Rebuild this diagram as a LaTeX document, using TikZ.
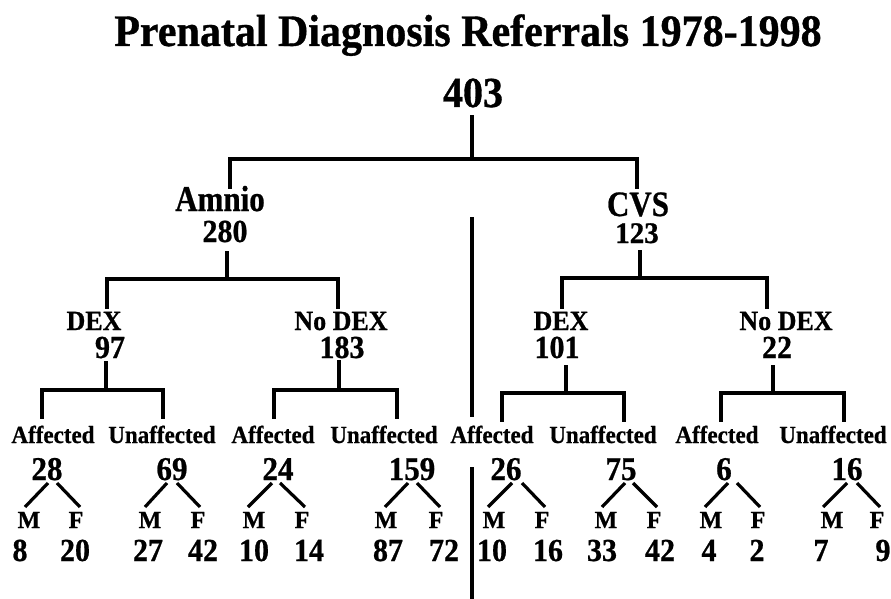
\documentclass[tikz,border=0pt]{standalone}
\usepackage{fontspec}
\setmainfont{Liberation Serif}[BoldFeatures={FakeBold=0.8}]
% slightly tall lettering
\newcommand\vst[2][1.07]{\scalebox{1}[#1]{#2}}
\begin{document}
\begin{tikzpicture}[x=1pt,y=-1pt,
  lbl/.style={anchor=base,inner sep=0pt,font=\bfseries\fontsize{#1}{#1}\selectfont},
  br/.style={line width=3.6pt,line join=miter,line cap=rect},
  tick/.style={line width=3.2pt,line cap=butt}]
\useasboundingbox (0,0) rectangle (891,599);

% title and root
\node[lbl=42] (title) at (468,46) {\vst{Prenatal Diagnosis Referrals 1978-1998}};
\node[lbl=40] (total) at (473,107) {\vst{403}};

% procedure level
\node[lbl=31] (amnio)  at (220,211) {\vst[1.17]{Amnio}};
\node[lbl=30] (amnioN) at (225,242) {\vst{280}};
\node[lbl=31] (cvs)    at (638,216) {\vst[1.15]{CVS}};
\node[lbl=29] (cvsN)   at (637,243) {\vst[1.03]{123}};

% treatment level
\node[lbl=26] (dexA)    at (94,330)  {\vst{DEX}};
\node[lbl=30] (dexAN)   at (110,358) {\vst{97}};
\node[lbl=26] (nodexA)  at (341,330) {\vst{No DEX}};
\node[lbl=30] (nodexAN) at (342,358) {\vst{183}};
\node[lbl=26] (dexC)    at (561,330) {\vst{DEX}};
\node[lbl=30] (dexCN)   at (557,358) {\vst{101}};
\node[lbl=26] (nodexC)  at (786,330) {\vst{No DEX}};
\node[lbl=30] (nodexCN) at (777,358) {\vst{22}};

% bracket joints
\coordinate (r0) at (472,117);  \coordinate (r1) at (472,159);
\coordinate (r2) at (230,187);  \coordinate (r3) at (637,187);
\coordinate (a0) at (227,253);  \coordinate (a1) at (227,279);
\coordinate (a2) at (107,307);  \coordinate (a3) at (338,307);
\coordinate (c0) at (640,252);  \coordinate (c1) at (640,278);
\coordinate (c2) at (562,307);  \coordinate (c3) at (767,307);
\coordinate (d0) at (106,363);  \coordinate (d1) at (106,390);
\coordinate (d2) at (42,417);   \coordinate (d3) at (163,417);
\coordinate (e0) at (339,362);  \coordinate (e1) at (339,390);
\coordinate (e2) at (274,417);  \coordinate (e3) at (397,417);
\coordinate (g0) at (566,367);  \coordinate (g1) at (566,393);
\coordinate (g2) at (502,420);  \coordinate (g3) at (624,420);
\coordinate (h0) at (773,367);  \coordinate (h1) at (773,393);
\coordinate (h2) at (721,420);  \coordinate (h3) at (844,420);

\foreach \p in {r,a,c,d,e,g,h}{
  \draw[br] (\p0) -- (\p1);
  \draw[br] (\p2) |- (\p1) -| (\p3);
}

% divider between the two procedures
\coordinate (v0) at (472,217); \coordinate (v1) at (472,417);
\coordinate (v2) at (472,467); \coordinate (v3) at (472,599);
\draw[line width=3.2pt] (v0) -- (v1);
\draw[line width=3.2pt] (v2) -- (v3);

% outcome, sex split and counts
\foreach \i/\lab/\lx/\n/\nx/\mx/\fx/\mn/\mnx/\fn/\fnx/\lt/\lb/\rt/\rb in {
  1/Affected/53/28/47/29/76/8/20/20/75/48/25/57/80,
  2/Unaffected/162/69/172/150/198/27/148/42/203/167/145/177/200,
  3/Affected/273/24/278/254/302/10/254/14/309/272/248/280/305,
  4/Unaffected/384/159/412/386/436/87/388/72/444/408/385/417/440,
  5/Affected/492/26/506/494/542/10/492/16/548/512/488/522/545,
  6/Unaffected/603/75/621/606/654/33/602/42/660/625/602/633/657,
  7/Affected/717/6/724/711/758/4/709/2/757/728/705/737/760,
  8/Unaffected/833/16/847/832/877/7/821/9/883/847/823/857/880}{
  \node[lbl=23] (out\i) at (\lx,443) {\vst{\lab}};
  \node[lbl=31] (cnt\i) at (\nx,480) {\vst{\n}};
  \node[lbl=24] (m\i) at (\mx,528) {\vst[1.02]{M}};
  \node[lbl=24] (f\i) at (\fx,528) {\vst[1.02]{F}};
  \node[lbl=30] (mc\i) at (\mnx,561) {\vst{\mn}};
  \node[lbl=30] (fc\i) at (\fnx,561) {\vst{\fn}};
  \coordinate (lt\i) at (\lt,483); \coordinate (lb\i) at (\lb,507);
  \coordinate (rt\i) at (\rt,483); \coordinate (rb\i) at (\rb,507);
  \draw[tick] (lt\i) -- (lb\i);
  \draw[tick] (rt\i) -- (rb\i);
}
\end{tikzpicture}
\end{document}
